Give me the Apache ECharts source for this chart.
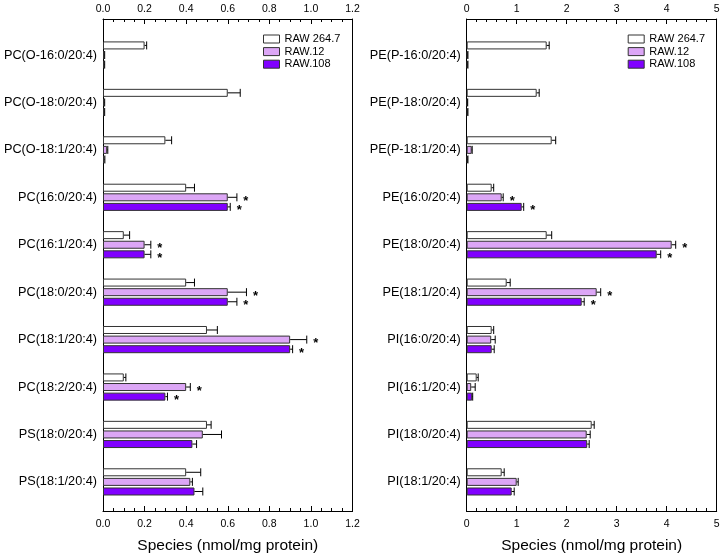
<!DOCTYPE html>
<html><head><meta charset="utf-8">
<script src="https://cdn.jsdelivr.net/npm/echarts@6/dist/echarts.min.js"></script>
<style>html,body{margin:0;padding:0;background:#fff}#c{width:723px;height:559px;background:#fff}</style>
</head><body><div id="c"></div>
<script>
const seriesNames = ['RAW 264.7', 'RAW.12', 'RAW.108'];
const seriesColors = ['#ffffff', '#dca6f6', '#8000ff'];

const leftCategories = ['PC(O-16:0/20:4)', 'PC(O-18:0/20:4)', 'PC(O-18:1/20:4)', 'PC(16:0/20:4)', 'PC(16:1/20:4)',
  'PC(18:0/20:4)', 'PC(18:1/20:4)', 'PC(18:2/20:4)', 'PS(18:0/20:4)', 'PS(18:1/20:4)'];
const leftRaw2647 = [0.20, 0.60, 0.30, 0.40, 0.10, 0.40, 0.50, 0.10, 0.50, 0.40];
const leftRaw2647Err = [0.01, 0.06, 0.03, 0.04, 0.028, 0.04, 0.05, 0.01, 0.02, 0.07];
const leftRaw12 = [0.006, 0.006, 0.02, 0.60, 0.20, 0.60, 0.90, 0.40, 0.48, 0.42];
const leftRaw12Err = [0.002, 0.002, 0.003, 0.044, 0.03, 0.09, 0.08, 0.02, 0.09, 0.01];
const leftRaw108 = [0.006, 0.006, 0.007, 0.60, 0.20, 0.60, 0.90, 0.30, 0.43, 0.44];
const leftRaw108Err = [0.002, 0.002, 0.002, 0.012, 0.03, 0.044, 0.012, 0.01, 0.02, 0.04];
const leftRaw2647Sig = [0, 0, 0, 0, 0, 0, 0, 0, 0, 0];
const leftRaw12Sig = [0, 0, 0, 1, 1, 1, 1, 1, 0, 0];
const leftRaw108Sig = [0, 0, 0, 1, 1, 1, 1, 1, 0, 0];
const leftAxisMax = 1.2, leftAxisInterval = 0.2;

const rightCategories = ['PE(P-16:0/20:4)', 'PE(P-18:0/20:4)', 'PE(P-18:1/20:4)', 'PE(16:0/20:4)', 'PE(18:0/20:4)',
  'PE(18:1/20:4)', 'PI(16:0/20:4)', 'PI(16:1/20:4)', 'PI(18:0/20:4)', 'PI(18:1/20:4)'];
const rightRaw2647 = [1.6, 1.4, 1.7, 0.5, 1.6, 0.8, 0.5, 0.2, 2.5, 0.7];
const rightRaw2647Err = [0.05, 0.05, 0.08, 0.04, 0.1, 0.07, 0.04, 0.03, 0.05, 0.05];
const rightRaw12 = [0.02, 0.015, 0.1, 0.7, 4.1, 2.6, 0.49, 0.09, 2.4, 1.0];
const rightRaw12Err = [0.005, 0.005, 0.01, 0.03, 0.08, 0.08, 0.08, 0.08, 0.07, 0.03];
const rightRaw108 = [0.02, 0.02, 0.02, 1.1, 3.8, 2.3, 0.5, 0.11, 2.41, 0.9];
const rightRaw108Err = [0.005, 0.005, 0.005, 0.04, 0.08, 0.05, 0.05, 0.01, 0.04, 0.05];
const rightRaw2647Sig = [0, 0, 0, 0, 0, 0, 0, 0, 0, 0];
const rightRaw12Sig = [0, 0, 0, 1, 1, 1, 0, 0, 0, 0];
const rightRaw108Sig = [0, 0, 0, 1, 1, 1, 0, 0, 0, 0];
const rightAxisMax = 5, rightAxisInterval = 1;

const axisTitle = 'Species (nmol/mg protein)';
const FONT = 'Liberation Sans, Arial, sans-serif';

const FRAME_TOP = 19, FRAME_BOTTOM = 511.5;
const BAR_TOP = 31.3, BAR_HEIGHT = 474.8;

function tickAxis(gridIndex, position, max, interval, splitN, digits, withName) {
  const offset = position === 'top' ? BAR_TOP - FRAME_TOP : FRAME_BOTTOM - (BAR_TOP + BAR_HEIGHT);
  return {
    type: 'value', gridIndex, position, offset, min: 0, max, interval,
    axisLine: { show: true, onZero: false, lineStyle: { color: '#000', width: 1 } },
    axisTick: { show: true, inside: true, length: 5, interval: 0, lineStyle: { color: '#000' } },
    minorTick: { show: true, splitNumber: splitN, length: 3, lineStyle: { color: '#000' } },
    splitLine: { show: false },
    axisLabel: { margin: position === 'top' ? 4 : 8, color: '#000', fontSize: 10.5, fontFamily: FONT,
      formatter: v => Number(v).toFixed(digits) },
    name: withName ? axisTitle : '',
    nameLocation: 'middle', nameGap: 27,
    nameTextStyle: { fontSize: 15.5, color: '#000', fontFamily: FONT }
  };
}
function sideAxis(gridIndex, position) {
  return {
    type: 'value', gridIndex, position, min: 0, max: 1,
    axisLine: { show: true, onZero: false, lineStyle: { color: '#000', width: 1 } },
    axisTick: { show: false }, axisLabel: { show: false }, splitLine: { show: false }
  };
}
function hiddenX(gridIndex, max) {
  return { type: 'value', gridIndex, min: 0, max, show: false, splitLine: { show: false },
    axisLine: { show: false, onZero: false } };
}
function catY(gridIndex, cats) {
  return {
    type: 'category', gridIndex, data: cats, inverse: true,
    axisLine: { show: false, onZero: false }, axisTick: { show: false }, splitLine: { show: false },
    axisLabel: { color: '#000', fontSize: 12.7, fontFamily: FONT, margin: 6 }
  };
}
function barSeries(k, xIdx, yIdx, data) {
  return {
    type: 'bar', name: seriesNames[k], xAxisIndex: xIdx, yAxisIndex: yIdx, data,
    barWidth: 8, barGap: '20%',
    itemStyle: { color: seriesColors[k], borderColor: '#333', borderWidth: 1 },
    silent: true
  };
}
function errSeries(k, xIdx, yIdx, vals, errs, sigs) {
  return {
    type: 'custom', xAxisIndex: xIdx, yAxisIndex: yIdx, z: 5, silent: true,
    data: vals.map((v, i) => [v, i, v + errs[i], sigs[i]]),
    encode: { x: [0, 2], y: 1 },
    renderItem(params, api) {
      const i = api.value(1);
      const p0 = api.coord([api.value(0), i]);
      const p1 = api.coord([api.value(2), i]);
      const y = p0[1] + (k - 1) * 9.6;
      const children = [
        { type: 'line', shape: { x1: p0[0], y1: y, x2: p1[0], y2: y }, style: { stroke: '#000', lineWidth: 1 } },
        { type: 'line', shape: { x1: p1[0], y1: y - 4, x2: p1[0], y2: y + 4 }, style: { stroke: '#000', lineWidth: 1 } }
      ];
      if (api.value(3)) {
        children.push({ type: 'text', x: p1[0] + 9, y: y + 4,
          style: { text: '*', font: 'bold 13px ' + FONT, fill: '#000', align: 'center', verticalAlign: 'middle' } });
      }
      return { type: 'group', children };
    }
  };
}
function legendAt(left) {
  return {
    data: seriesNames, left, top: 33.5, orient: 'vertical', itemWidth: 16, itemHeight: 8, itemGap: 1.6,
    padding: 0, selectedMode: false, icon: 'rect',
    itemStyle: { borderColor: '#333', borderWidth: 1 },
    textStyle: { fontSize: 11, color: '#000', fontFamily: FONT }
  };
}

const chart = echarts.init(document.getElementById('c'));
chart.setOption({
  animation: false,
  grid: [
    { left: 103, top: FRAME_TOP, width: 249.5, height: FRAME_BOTTOM - FRAME_TOP },
    { left: 103, top: BAR_TOP, width: 249.5, height: BAR_HEIGHT },
    { left: 466.7, top: FRAME_TOP, width: 250, height: FRAME_BOTTOM - FRAME_TOP },
    { left: 466.7, top: BAR_TOP, width: 250, height: BAR_HEIGHT }
  ],
  xAxis: [
    hiddenX(0, leftAxisMax),
    tickAxis(1, 'top', leftAxisMax, leftAxisInterval, 4, 1, false),
    tickAxis(1, 'bottom', leftAxisMax, leftAxisInterval, 4, 1, true),
    hiddenX(2, rightAxisMax),
    tickAxis(3, 'top', rightAxisMax, rightAxisInterval, 5, 0, false),
    tickAxis(3, 'bottom', rightAxisMax, rightAxisInterval, 5, 0, true)
  ],
  yAxis: [
    sideAxis(0, 'left'),
    sideAxis(0, 'right'),
    catY(1, leftCategories),
    sideAxis(2, 'left'),
    sideAxis(2, 'right'),
    catY(3, rightCategories)
  ],
  legend: [legendAt(263), legendAt(627.7)],
  series: [
    barSeries(0, 2, 2, leftRaw2647),
    barSeries(1, 2, 2, leftRaw12),
    barSeries(2, 2, 2, leftRaw108),
    errSeries(0, 1, 2, leftRaw2647, leftRaw2647Err, leftRaw2647Sig),
    errSeries(1, 1, 2, leftRaw12, leftRaw12Err, leftRaw12Sig),
    errSeries(2, 1, 2, leftRaw108, leftRaw108Err, leftRaw108Sig),
    barSeries(0, 5, 5, rightRaw2647),
    barSeries(1, 5, 5, rightRaw12),
    barSeries(2, 5, 5, rightRaw108),
    errSeries(0, 4, 5, rightRaw2647, rightRaw2647Err, rightRaw2647Sig),
    errSeries(1, 4, 5, rightRaw12, rightRaw12Err, rightRaw12Sig),
    errSeries(2, 4, 5, rightRaw108, rightRaw108Err, rightRaw108Sig)
  ]
});
</script></body></html>
